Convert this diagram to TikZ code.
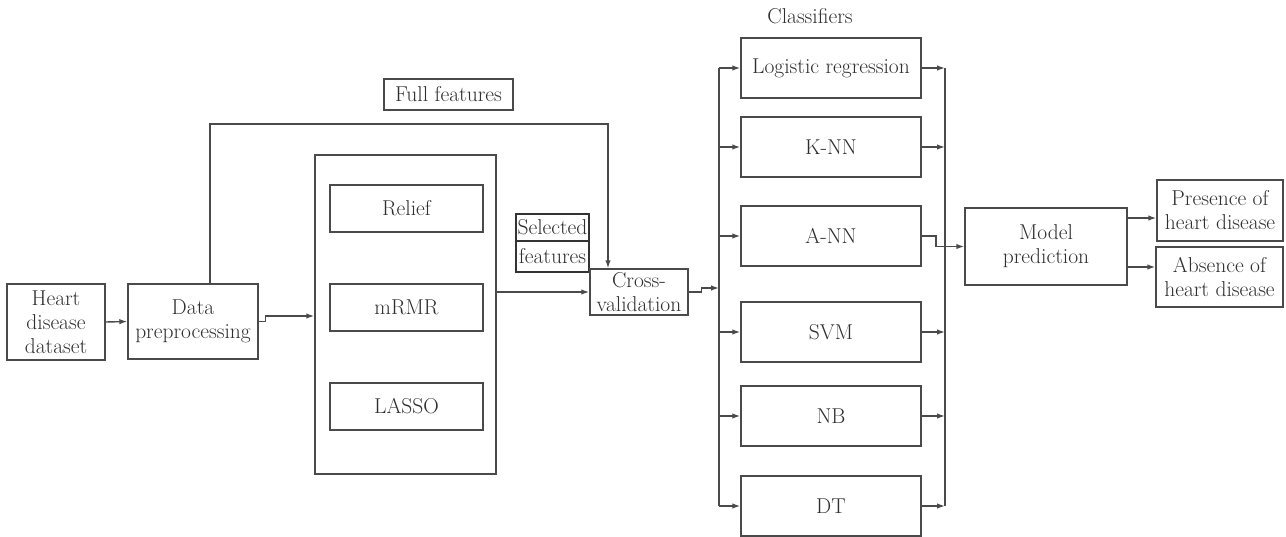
\documentclass[tikz,border=0pt]{standalone}
\usepackage{fontspec}
\usetikzlibrary{arrows.meta}
\definecolor{ln}{HTML}{4a4a4a}
\definecolor{tx}{HTML}{2e2e2e}
\begin{document}
\begin{tikzpicture}[x=1pt,y=-1pt,
  every node/.style={font=\fontsize{21.5}{24}\selectfont, text=tx},
  box/.style={draw=ln, line width=1.4pt, inner sep=0pt, align=center},
  thickbox/.style={draw=black!80, line width=2.8pt, inner sep=0pt, align=center},
  arr/.style={draw=ln, line width=1.4pt, -{Latex[length=8pt,width=5.5pt]}},
  ln/.style={draw=ln, line width=1.4pt}]
\useasboundingbox (0,0) rectangle (1286,536);

% left part
\node[box, minimum width=98, minimum height=76] (hd) at (56,322) {Heart\\disease\\dataset};
\node[box, minimum width=130, minimum height=75] (dp) at (193,321.5) {Data\\preprocessing};
\node[box, minimum width=181, minimum height=319] (big) at (405.5,314.5) {};
\node[box, minimum width=153, minimum height=47] (relief) at (406.5,208.5) {Relief};
\node[box, minimum width=153, minimum height=47] (mrmr) at (406.5,307.5) {mRMR};
\node[box, minimum width=153, minimum height=47] (lasso) at (406.5,406.5) {LASSO};
\node[box, minimum width=129, minimum height=31] (full) at (448.5,94.5) {Full features};
\node[thickbox, minimum width=73, minimum height=27] (sel1) at (552.5,227.5) {Selected};
\node[thickbox, minimum width=73, minimum height=31] (sel2) at (552.5,256.5) {features};
\node[box, minimum width=98, minimum height=46] (cv) at (639,292) {Cross-\\validation};

% classifiers
\node (cls) at (810,16) {Classifiers};
\node[box, minimum width=180, minimum height=60] (lr) at (831,68) {Logistic regression};
\node[box, minimum width=180, minimum height=60] (knn) at (831,147) {K-NN};
\node[box, minimum width=180, minimum height=60] (ann) at (831,236) {A-NN};
\node[box, minimum width=180, minimum height=60] (svm) at (831,332) {SVM};
\node[box, minimum width=180, minimum height=60] (nb) at (831,416) {NB};
\node[box, minimum width=180, minimum height=60] (dt) at (831,506) {DT};

% right part
\node[box, minimum width=162, minimum height=77] (mp) at (1046,246.5) {Model\\prediction};
\node[box, minimum width=126, minimum height=61] (pres) at (1220,210.5) {Presence of\\heart disease};
\node[box, minimum width=127, minimum height=60] (abs) at (1219.5,277) {Absence of\\heart disease};

% coordinates
\coordinate (ffup) at (210,124);
\coordinate (ffdn) at (608,124);
\coordinate (bl1) at (719,68);
\coordinate (bl2) at (719,506);
\coordinate (br1) at (945,68);
\coordinate (br2) at (945,506);
\coordinate (m1) at ([yshift=28.5pt]mp.east);
\coordinate (m2) at ([yshift=-20.5pt]mp.east);
\coordinate (bin) at ([yshift=-1.5pt]big.west);

% connectors
\draw[arr] (hd.east) -- (dp.west);
\draw[arr] (dp.east) -- ++(7,0) |- (bin);
\draw[arr] (dp.north -| ffup) -- (ffup) -- (ffdn) -- (ffdn |- cv.north);
\draw[arr] (big.east |- cv.west) -- (cv.west);
\draw[arr] (cv.east) -- ++(13,0) |- (719,288);

\draw[ln] (bl1) -- (bl2);
\draw[ln] (br1) -- (br2);
\foreach \n in {lr,knn,ann,svm,nb,dt}{
  \draw[arr] (bl1 |- \n.west) -- (\n.west);
}
\foreach \n in {lr,knn,svm,nb,dt}{
  \draw[arr] (\n.east) -- (br1 |- \n.east);
}
\draw[arr] (ann.east) -- (936,236) |- (mp.west);
\draw[arr] (m1) -- (m1 -| pres.west);
\draw[arr] (m2) -- (m2 -| abs.west);
\end{tikzpicture}
\end{document}
